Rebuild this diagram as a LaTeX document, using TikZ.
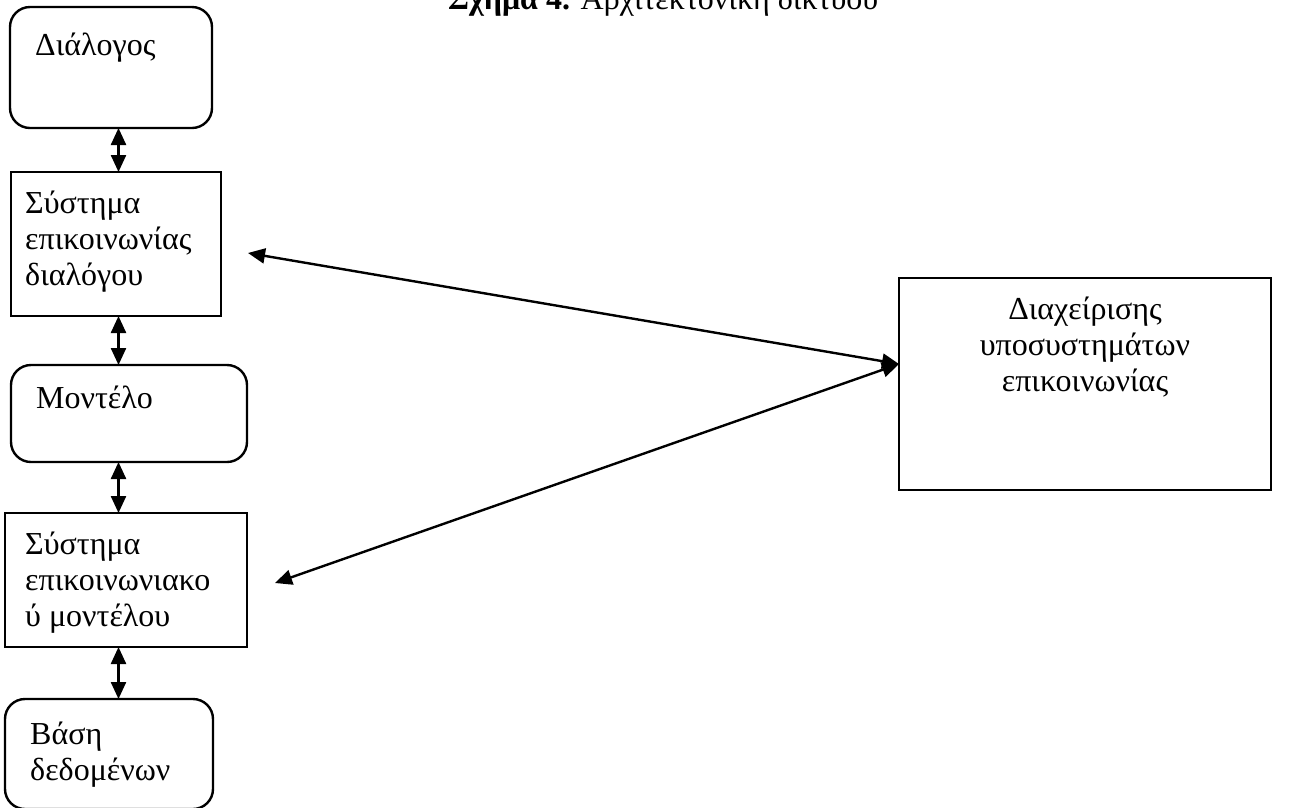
\documentclass[tikz,border=0pt]{standalone}
\usepackage{fontspec}
\setmainfont{Liberation Serif}
\usetikzlibrary{arrows.meta}
\begin{document}
\begin{tikzpicture}[x=1pt,y=-1pt,
  box/.style={draw, line width=2.4pt, outer sep=0pt, inner sep=0pt, anchor=north west},
  rbox/.style={box, rounded corners=20pt},
  txt/.style={inner sep=0pt, font=\fontsize{32}{36}\selectfont},
  conn/.style={line width=2.4pt, {Triangle[length=17pt,width=15pt]}-{Triangle[length=17pt,width=15pt]}}]
\clip (0,0) rectangle (1303,807);
\useasboundingbox (0,0) rectangle (1303,807);

% caption
\node[txt, anchor=base west] (title) at (448,9) {\textbf{Σχήμα 4.} Αρχιτεκτονική δικτύου};

% left column of components
\node[rbox, minimum width=202pt, minimum height=121pt] (dlg) at (10,7) {};
\node[box, minimum width=210pt, minimum height=144pt] (sys) at (11,172) {};
\node[rbox, minimum width=236pt, minimum height=97pt] (mdl) at (11,365) {};
\node[box, minimum width=242pt, minimum height=134pt] (sm) at (5,513) {};
\node[rbox, minimum width=208pt, minimum height=110pt] (db) at (5,699) {};

% right component
\node[box, minimum width=372pt, minimum height=212pt] (mgmt) at (899,278) {};

% labels (multi-line labels are placed by the baseline of their last line)
\node[txt, anchor=base west] (tdlg) at (35,55) {Διάλογος};
\node[txt, anchor=base west, align=left] (tsys) at (25,285) {Σύστημα\\επικοινωνίας\\διαλόγου};
\node[txt, anchor=base west] (tmdl) at (36,408) {Μοντέλο};
\node[txt, anchor=base west, align=left] (tsm) at (25,626) {Σύστημα\\επικοινωνιακο\\ύ μοντέλου};
\node[txt, anchor=base west, align=left] (tdb) at (30,780) {Βάση\\δεδομένων};
\node[txt, anchor=base, align=center] (tmgmt) at (1085,391) {Διαχείρισης\\υποσυστημάτων\\επικοινωνίας};

% vertical links
\coordinate (col) at (118.5,0);
\draw[conn] (dlg.south -| col) -- (sys.north -| col);
\draw[conn] (sys.south -| col) -- (mdl.north -| col);
\draw[conn] (mdl.south -| col) -- (sm.north -| col);
\draw[conn] (sm.south -| col) -- (db.north -| col);

% links to the management subsystem
\coordinate (hub) at ([yshift=20pt]mgmt.west);
\coordinate (p1) at ([xshift=27pt,yshift=-9pt]sys.east);
\coordinate (p2) at ([xshift=28pt,yshift=-3pt]sm.east);
\draw[conn] (hub) -- (p1);
\draw[conn] (hub) -- (p2);
\end{tikzpicture}
\end{document}
